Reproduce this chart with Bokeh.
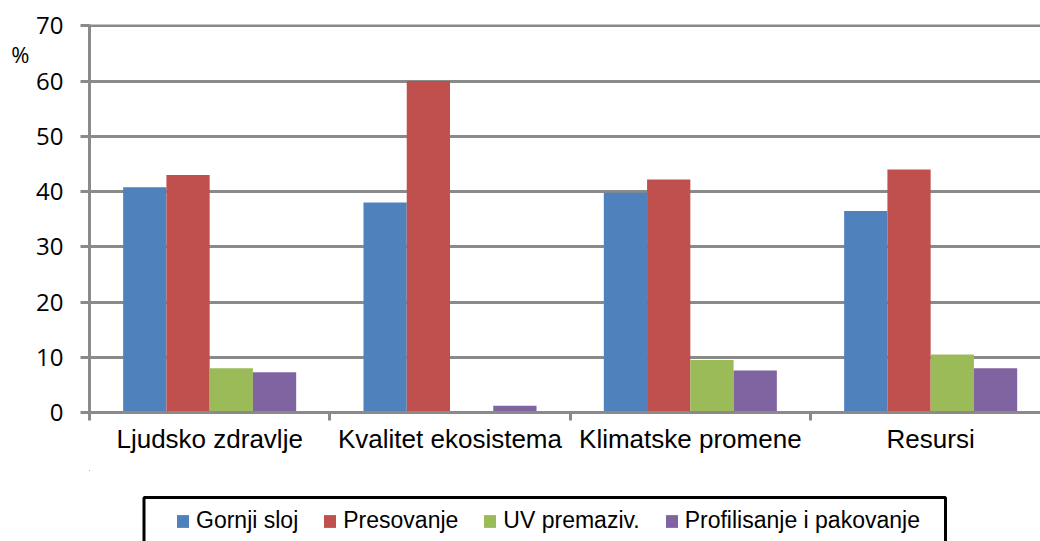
from bokeh.plotting import figure
from bokeh.layouts import column
from bokeh.models import FixedTicker, Legend, LegendItem, Range1d, LinearAxis, BoxAnnotation
from bokeh.embed import file_html
from bokeh.resources import INLINE

categories = ["Ljudsko zdravlje", "Kvalitet ekosistema", "Klimatske promene", "Resursi"]
series_names = ["Gornji sloj", "Presovanje", "UV premaziv.", "Profilisanje i pakovanje"]
gornji_sloj = [40.8, 38.0, 39.8, 36.5]
presovanje = [43.0, 60.0, 42.2, 44.0]
uv_premaziv = [8.0, 0.0, 9.5, 10.5]
profilisanje = [7.3, 1.2, 7.6, 8.0]
y_ticks = [0, 10, 20, 30, 40, 50, 60, 70]
y_unit = "%"

series = [gornji_sloj, presovanje, uv_premaziv, profilisanje]
colors = ["#4F81BD", "#C0504D", "#9BBB59", "#8064A2"]
GRAY = "#8a8a8a"

n = len(categories)
p = figure(width=1040, height=470, output_backend="svg", toolbar_location=None,
           x_range=Range1d(0, 3.957), y_range=Range1d(0, 70.25),
           min_border_left=89, min_border_right=0, min_border_top=24, min_border_bottom=58)
p.outline_line_color = None
p.background_fill_color = "white"
p.border_fill_color = "white"

bar_w = 0.18
offsets = [-1.5, -0.5, 0.5, 1.5]
for vals, col, off in zip(series, colors, offsets):
    xs = [i + 0.5 + off * bar_w for i in range(n)]
    p.vbar(x=xs, top=vals, bottom=0, width=bar_w, fill_color=col, line_color=None)

# grid
p.xgrid.visible = False
p.ygrid.ticker = FixedTicker(ticks=y_ticks)
p.ygrid.grid_line_color = GRAY
p.ygrid.grid_line_width = 3

# y axis
ya = p.yaxis[0]
ya.ticker = FixedTicker(ticks=y_ticks)
ya.axis_line_color = GRAY
ya.axis_line_width = 3
ya.major_tick_line_color = GRAY
ya.major_tick_line_width = 3
ya.major_tick_out = 9
ya.major_tick_in = 0
ya.minor_tick_line_color = None
ya.major_label_standoff = 17
ya.major_label_text_font = "Open Sans"
ya.major_label_text_font_size = "24px"
ya.major_label_text_color = "black"

# unit label as an outer axis
p.extra_y_ranges = {"unit": Range1d(0, 70.25)}
ua = LinearAxis(y_range_name="unit", ticker=FixedTicker(ticks=[64.9]),
                major_label_overrides={64.9: y_unit})
ua.axis_line_color = None
ua.major_tick_line_color = None
ua.minor_tick_line_color = None
ua.major_tick_out = 0
ua.major_tick_in = 0
ua.major_label_standoff = 4
ua.major_label_text_font = "Open Sans"
ua.major_label_text_font_size = "22px"
ua.major_label_text_color = "black"
p.add_layout(ua, "left")

# x axis
xa = p.xaxis[0]
centers = [i + 0.5 for i in range(n)]
xa.ticker = FixedTicker(ticks=centers, minor_ticks=list(range(n + 1)))
xa.major_label_overrides = {c: lab for c, lab in zip(centers, categories)}
xa.axis_line_color = GRAY
xa.axis_line_width = 3
xa.major_tick_line_color = None
xa.major_tick_out = 0
xa.major_tick_in = 0
xa.minor_tick_line_color = GRAY
xa.minor_tick_line_width = 3
xa.minor_tick_out = 8
xa.minor_tick_in = 0
xa.major_label_standoff = 3
xa.major_label_text_font = "Liberation Sans"
xa.major_label_text_font_size = "26px"
xa.major_label_text_color = "black"

# legend figure (series drawn outside its visible range, used only for the legend)
# its data coordinates: x = page px, y = -(page px below 470)
q = figure(width=1040, height=71, output_backend="svg", toolbar_location=None,
           x_range=Range1d(89, 1040), y_range=Range1d(-71, 0),
           x_axis_location=None, y_axis_location=None,
           min_border_left=0, min_border_right=0, min_border_top=0, min_border_bottom=0)
q.outline_line_color = None
q.xgrid.visible = False
q.ygrid.visible = False
renderers = []
for vals, col, off in zip(series, colors, offsets):
    xs = [i + 0.5 + off * bar_w for i in range(n)]
    renderers.append(q.vbar(x=xs, top=[v + 100 for v in vals], bottom=100, width=bar_w,
                            fill_color=col, line_color=None))

# legend frame
q.add_layout(BoxAnnotation(left=143.5, right=945, top=-27, bottom=-110,
                           fill_color="white", fill_alpha=1,
                           line_color="black", line_width=3, line_alpha=1))

legend = Legend(items=[LegendItem(label=nm, renderers=[r]) for nm, r in zip(series_names, renderers)],
                orientation="horizontal", location=(86, 7))
legend.padding = 16
legend.spacing = 24
legend.label_standoff = 6
legend.glyph_width = 15
legend.glyph_height = 16
legend.margin = 0
legend.label_text_font = "Liberation Sans"
legend.label_text_font_size = "23px"
legend.label_text_color = "black"
legend.border_line_color = None
legend.background_fill_alpha = 0
q.add_layout(legend, "center")

open("out.html", "w").write(file_html(column(p, q, spacing=0), INLINE))
